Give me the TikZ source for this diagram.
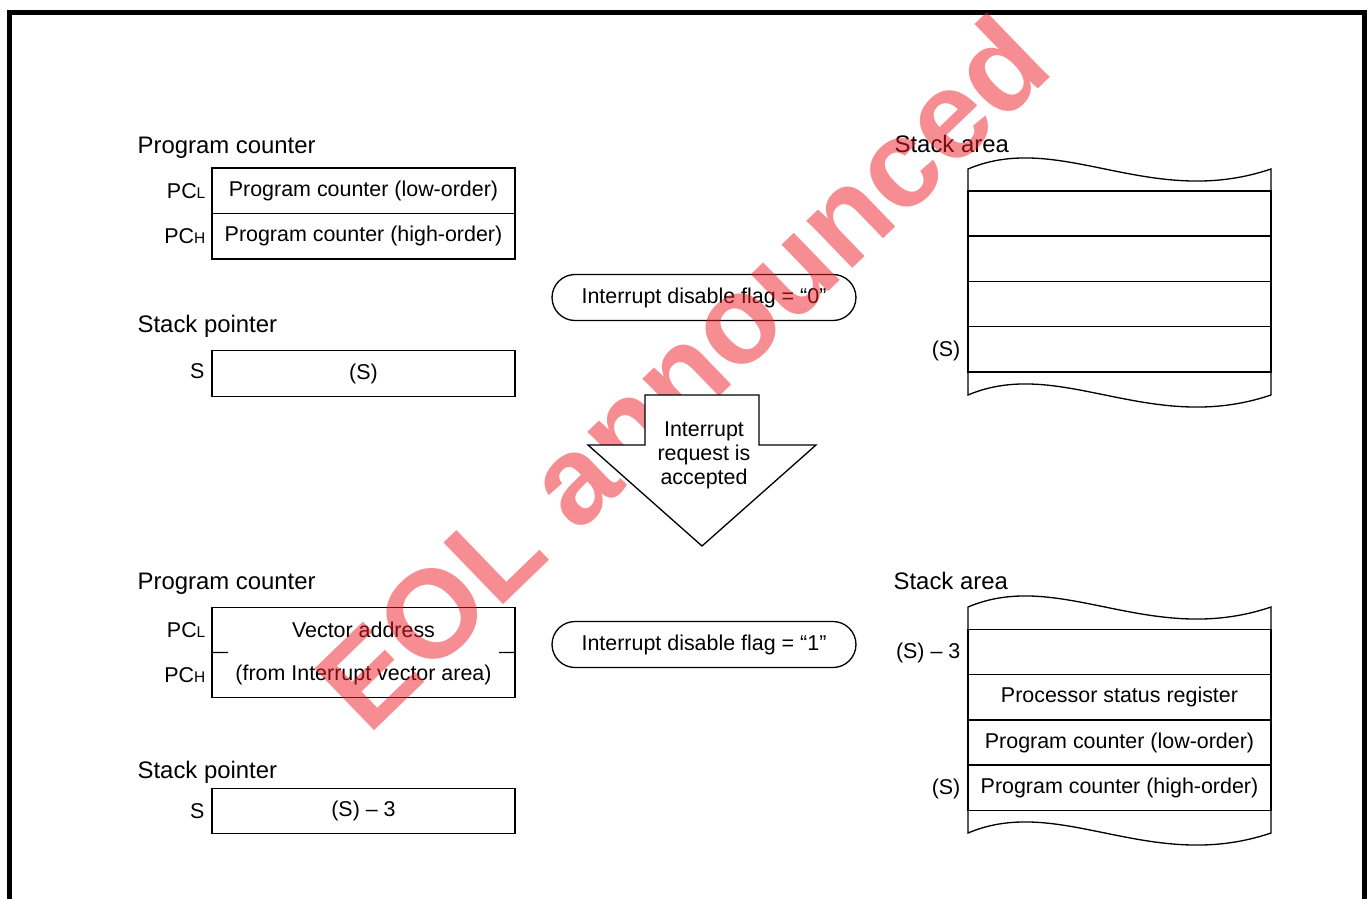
\documentclass[tikz,border=0pt]{standalone}
\usepackage{fontspec}
\setmainfont{Liberation Sans}
\usetikzlibrary{positioning, shapes.misc}

\definecolor{EOLRed}{HTML}{EE1C25}
\newcommand{\pcreg}[1]{PC{\fontsize{8.8}{10}\selectfont #1}}

\begin{document}
\begin{tikzpicture}[x=0.02cm, y=-0.02cm, line width=0.75pt,
  body/.style={font=\fontsize{12.2}{13.6}\selectfont},
  title/.style={font=\fontsize{13.6}{16}\selectfont, anchor=base west, inner sep=0pt},
  reg/.style={draw, body, minimum width=6.06cm, minimum height=0.91cm, inner sep=0pt, outer sep=0pt},
  cell/.style={reg, minimum height=0.905cm},
  tag/.style={body, anchor=east, inner sep=0pt},
  flag/.style={draw, body, rounded rectangle, minimum width=6.08cm, minimum height=0.92cm, inner sep=0pt}]
  \useasboundingbox (0,0) rectangle (1370,899);
  % Frame (open at the bottom)
  \draw[line width=2.9pt] (9.3,899) -- (9.3,12.5) -- (1364.7,12.5) -- (1364.7,899);

  % ---- Before the interrupt ----
  \node[title] (pctitle) at (137,153) {Program counter};
  \node[reg] (pcl) at (363.5,190.8) {Program counter (low-order)};
  \node[reg, below=0pt of pcl] (pch) {Program counter (high-order)};
  \node[tag] at (206,190.8) {\pcreg{L}};
  \node[tag] at (206,236.3) {\pcreg{H}};

  \node[title] (sptitle) at (137,332) {Stack pointer};
  \node[reg] (sp) at (363.5,373.5) {(S)};
  \node[tag] at (205,371) {S};

  \node[flag] (flag0) at (704,297.5) {Interrupt disable flag = “0”};

  \node[title] (sttitle) at (894,152) {Stack area};
  \node[cell] (u1) at (1119.5,213.5) {};
  \node[cell, below=0pt of u1] (u2) {};
  \node[cell, below=0pt of u2] (u3) {};
  \node[cell, below=0pt of u3] (u4) {};
  \node[tag] at (961,351) {(S)};
  % torn edges
  \draw (u1.north west) -- (968,169) .. controls (1060,130) and (1150,210) .. (1271,169) -- (u1.north east);
  \draw (u4.south west) -- (968,395) .. controls (1060,356) and (1150,436) .. (1271,395) -- (u4.south east);

  % ---- After the interrupt ----
  \node[title] (pctitle2) at (137,589) {Program counter};
  \node[body, minimum width=6.06cm, minimum height=0.9cm, inner sep=0pt, outer sep=0pt]
    (vecl) at (363.5,630) {Vector address};
  \node[body, minimum width=6.06cm, minimum height=0.9cm, inner sep=0pt, outer sep=0pt,
    below=0pt of vecl] (vech) {(from Interrupt vector area)};
  \draw (vecl.north west) rectangle (vech.south east);
  \draw (vecl.south west) -- (228,652.5);
  \draw (vecl.south east) -- (499,652.5);
  \node[tag] at (206,630) {\pcreg{L}};
  \node[tag] at (206,675.5) {\pcreg{H}};

  \node[title] (sptitle2) at (137,778) {Stack pointer};
  \node[reg] (sp2) at (363.5,811) {(S) – 3};
  \node[tag] at (205,811) {S};

  \node[flag] (flag1) at (704,644.5) {Interrupt disable flag = “1”};

  \node[title] (sttitle2) at (893,589) {Stack area};
  \node[cell] (l1) at (1119.5,652) {};
  \node[cell, below=0pt of l1] (l2) {Processor status register};
  \node[cell, below=0pt of l2] (l3) {Program counter (low-order)};
  \node[cell, below=0pt of l3] (l4) {Program counter (high-order)};
  \node[tag] at (961,653) {(S) – 3};
  \node[tag] at (961,789) {(S)};
  \draw (l1.north west) -- (968,607) .. controls (1060,568) and (1150,648) .. (1271,607) -- (l1.north east);
  \draw (l4.south west) -- (968,833) .. controls (1060,794) and (1150,874) .. (1271,833) -- (l4.south east);

  % Watermark
  \node[text=EOLRed, text opacity=0.5, rotate=44, anchor=base, inner sep=0pt,
    font=\fontsize{71}{76}\selectfont\bfseries] (eol) at (712,404) {EOL announced};

  % Interrupt accepted (white arrow on top of the watermark)
  \draw[fill=white] (645,395) -- (759,395) -- (759,445) -- (816,445) -- (702,546)
    -- (588,445) -- (645,445) -- cycle;
  \node[body, align=center] (irq) at (704,455) {Interrupt\\request is\\accepted};
\end{tikzpicture}
\end{document}
